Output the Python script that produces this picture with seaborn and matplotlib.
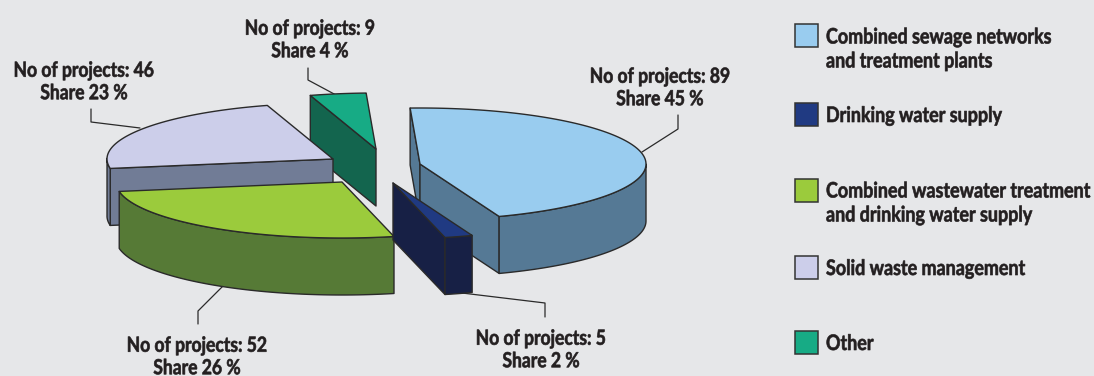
import numpy as np
import matplotlib
matplotlib.use("Agg")
import matplotlib.pyplot as plt
import matplotlib.patheffects as pe
from matplotlib.transforms import Affine2D
import seaborn as sns

categories = ["Combined sewage networks\nand treatment plants",
              "Drinking water supply",
              "Combined wastewater treatment\nand drinking water supply",
              "Solid waste management",
              "Other"]
projects = [89, 5, 52, 46, 9]
shares = [45, 2, 26, 23, 4]
top_colors = ["#99CCEF", "#203A82", "#9BCB3C", "#CCCEEA", "#17AB85"]
side_colors = ["#557995", "#172045", "#567A36", "#717C96", "#13654E"]

BG = "#E6E7E9"
INK = "#231F20"
FONT = ["Lato", "Liberation Sans", "DejaVu Sans"]

sns.set_theme(style="white", rc={"figure.facecolor": BG, "axes.facecolor": BG})
plt.rcParams["font.family"] = FONT

# The axes run in canvas pixels, so each slice can be exploded to its own centre.
fig = plt.figure(figsize=(10.94, 3.76), dpi=100)
ax = fig.add_axes([0, 0, 1, 1])
ax.set_xlim(0, 1094)
ax.set_ylim(376, 0)
ax.axis("off")

RX, RY, DEPTH = 226, 56, 57
START = -2.5
centres = [(420, 164), (393, 183), (342, 182), (333, 159), (376, 149)]

# Slice angles follow the printed percentages, clockwise from twelve o'clock.
angles = np.cumsum([0] + [s / sum(shares) * 360 for s in shares]) + START


class Tall(pe.AbstractPathEffect):
    """Stretches each text line upward from its baseline and thickens it a little."""

    def __init__(self, factor, stroke):
        super().__init__()
        self.factor, self.stroke = factor, stroke

    def draw_path(self, renderer, gc, tpath, affine, rgbFace=None):
        m = affine.get_matrix().copy()
        m[1, 1] *= self.factor
        stroked = renderer.new_gc()
        stroked.copy_properties(gc)
        stroked.set_linewidth(self.stroke)
        stroked.set_foreground(INK)
        renderer.draw_path(stroked, tpath, Affine2D(m), rgbFace)
        stroked.restore()


def rim(c, a0, a1):
    t = np.radians(np.linspace(a0, a1, 120))
    return c[0] + RX * np.sin(t), c[1] - RY * np.cos(t)


def face(xs, ys, color, z):
    ax.fill(xs, ys, facecolor=color, edgecolor="#2A2A2A", linewidth=1.0,
            joinstyle="round", zorder=z)


def extruded(x0, y0, x1, y1, color, z):
    xs = np.concatenate([x0, x1[::-1]])
    ys = np.concatenate([y0, y1[::-1]])
    face(xs, ys, color, z)


# Painter's order, back to front.
order = [4, 3, 0, 2, 1]
for z, i in enumerate(order):
    c = centres[i]
    a0, a1 = angles[i], angles[i + 1]
    base = 10 * (z + 1)
    ax_, ay_ = rim(c, a0, a1)

    # Radial walls, drawn only where they face the viewer.
    for a in (a0, a1):
        px, py = rim(c, a, a)
        inward = (a == a1)
        front = np.sin(np.radians(a)) > 0 if inward else np.sin(np.radians(a)) < 0
        if front:
            rx = np.array([c[0], px[0]])
            ry = np.array([c[1], py[0]])
            extruded(rx, ry, rx, ry + DEPTH, side_colors[i], base)

    # Outer wall, limited to the near half of the ellipse.
    near = np.cos(np.radians(np.linspace(a0, a1, 120))) < 0.02
    if near.any():
        extruded(ax_[near], ay_[near], ax_[near], ay_[near] + DEPTH, side_colors[i], base + 1)

    face(np.r_[c[0], ax_], np.r_[c[1], ay_], top_colors[i], base + 2)

LABEL_SIZE = 12.6
LEGEND_SIZE = 12.9
STRETCH = 1.19
STROKE = 0.45
SPACING = 1.50

# Value labels with their leader lines.
label_pos = [(660, 89), (541, 351), (197, 358), (84, 83), (310, 41)]
leaders = [[(642, 152), (678, 129), (678, 115)],
           [(462, 293), (545, 303), (545, 317)],
           [(223, 286), (198, 311), (198, 324)],
           [(140, 128), (91, 122), (91, 109)],
           [(336, 95), (308, 80), (308, 68)]]
for i, (x, y) in enumerate(label_pos):
    ax.text(x, y, f"No of projects: {projects[i]}\nShare {shares[i]} %", ha="center", va="center",
            fontsize=LABEL_SIZE, fontweight="bold", color=INK, linespacing=SPACING, zorder=100,
            path_effects=[Tall(STRETCH, STROKE)])
    lx, ly = zip(*leaders[i])
    ax.plot(lx, ly, color="#2A2A2A", lw=0.9, zorder=5)

# Hand-placed legend.
legend_y = [35.5, 114, 190, 267.5, 342.5]
text_y = [50, 116.5, 204, 269.5, 344.5]
for i, name in enumerate(categories):
    ax.add_patch(plt.Rectangle((794.5, legend_y[i] - 11.5), 23, 23, facecolor=top_colors[i],
                               edgecolor="#333333", linewidth=1.1, zorder=50))
    ax.text(826, text_y[i], name, ha="left", va="center", fontsize=LEGEND_SIZE, fontweight="bold",
            color=INK, linespacing=SPACING, zorder=100,
            path_effects=[Tall(STRETCH, STROKE)])

sns.despine(ax=ax, left=True, bottom=True)
fig.savefig("out.png", dpi=100, facecolor=BG)
